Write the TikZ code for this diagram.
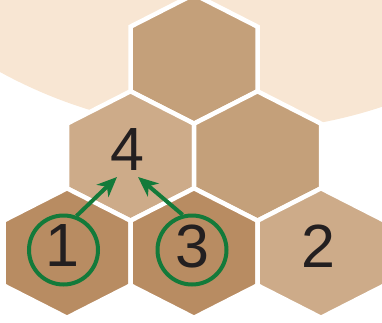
\documentclass[tikz,border=0pt]{standalone}
\usepackage{fontspec}
\setmainfont{Liberation Sans}
\usetikzlibrary{positioning,arrows.meta}

\definecolor{peach}{HTML}{F8E6D3}
\definecolor{hexmid}{HTML}{C4A07A}
\definecolor{hexlight}{HTML}{CDAB89}
\definecolor{hexdark}{HTML}{B88C62}
\definecolor{ringgreen}{HTML}{137A3A}
\definecolor{ink}{HTML}{231F20}

\tikzset{
  hexcell/.style={draw=white, line width=4.5pt, line join=miter},
  digit/.style={font=\fontsize{61}{61}\selectfont, text=ink, inner sep=0pt},
  ring/.style={circle, draw=ringgreen, line width=4pt, minimum size=69pt, inner sep=0pt},
  pointer/.style={draw=ringgreen, line width=4pt, -{Stealth[length=20pt,width=17pt,inset=6pt]}}
}

% one pointy-top cell at (x,y) with a fill colour
\newcommand{\hexcell}[3]{%
  \filldraw[fill=#3, hexcell] (#1,#2) +(0,-64.7) -- +(63.5,-32.35) -- +(63.5,32.35)
    -- +(0,64.7) -- +(-63.5,32.35) -- +(-63.5,-32.35) -- cycle;}

\begin{document}
\begin{tikzpicture}[x=1pt, y=-1pt]
    \useasboundingbox (0,0) rectangle (382,322);
    \clip (0,0) rectangle (382,322);

    % background disc
    \fill[peach] (231,-350) circle[radius=481pt];

    % cells, top row to bottom row
    \hexcell{194}{59}{hexmid}
    \hexcell{130.5}{156}{hexlight}
    \hexcell{257.5}{156}{hexmid}
    \hexcell{67}{253}{hexdark}
    \hexcell{194}{253}{hexdark}
    \hexcell{321}{253}{hexlight}

    % numbers
    \node[digit] (four) at (127,150) {4};
    \node[digit] (one) at (62,246) {1};
    \node[digit] (three) at (192,246) {3};
    \node[digit] (two) at (318,246) {2};

    % rings
    \node[ring] (ringone) at (63.5,250) {};
    \node[ring] (ringthree) at (192,250) {};

    \coordinate (tipleft) at (117,177);
    \coordinate (tipright) at (138,177);

    \draw[pointer] (ringone.69) -- (tipleft);
    \draw[pointer] (ringthree.105) -- (tipright);
\end{tikzpicture}
\end{document}
